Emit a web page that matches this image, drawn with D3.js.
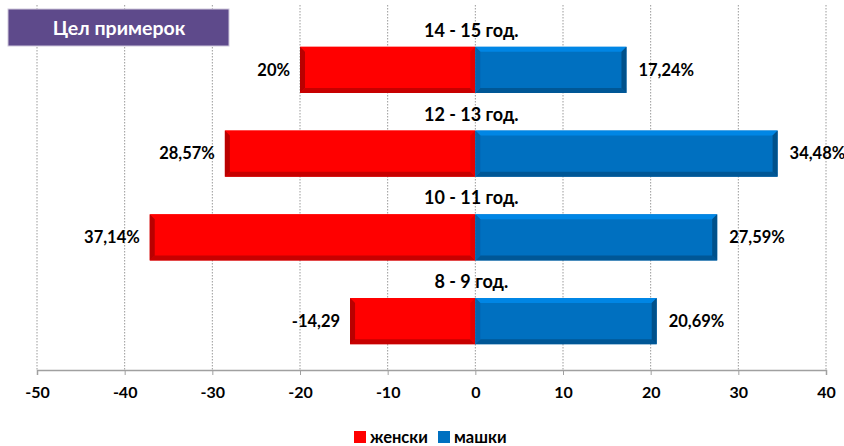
<!DOCTYPE html>
<html>
<head>
<meta charset="utf-8">
<script src="https://cdn.jsdelivr.net/npm/d3@7"></script>
<style>
  body { margin: 0; background: #fff; }
  text { font-family: Lato, "Open Sans", sans-serif; font-weight: bold; }
</style>
</head>
<body>
<div id="chart"></div>
<script>
const groups = ["14 - 15 год.", "12 - 13 год.", "10 - 11 год.", "8 - 9 год."];
const women = [-20, -28.57, -37.14, -14.29];
const men = [17.24, 34.48, 27.59, 20.69];
const womenLabels = ["20%", "28,57%", "37,14%", "-14,29"];
const menLabels = ["17,24%", "34,48%", "27,59%", "20,69%"];
const ticks = [-50, -40, -30, -20, -10, 0, 10, 20, 30, 40];
const series = ["женски", "машки"];
const colors = {женски: "#ff0000", машки: "#0070c0"};

const width = 844, height = 446;
const svg = d3.select("#chart").append("svg")
    .attr("width", width)
    .attr("height", height);

const x = d3.scaleLinear().domain([-50, 40]).range([37, 826]);
const y = d3.scaleBand().domain(groups).range([28, 363]).paddingInner(0.45).paddingOuter(0.225);
const axisY = 370;

// dotted gridlines
svg.append("g")
  .selectAll("line")
  .data(ticks)
  .join("line")
    .attr("x1", d => x(d)).attr("x2", d => x(d))
    .attr("y1", 5).attr("y2", axisY)
    .attr("stroke", "#9a9a9a")
    .attr("stroke-dasharray", "1.5,1.5");

// axis
const axis = svg.append("g")
  .attr("transform", `translate(0, ${axisY})`)
  .call(d3.axisBottom(x).tickValues(ticks).tickSize(5).tickPadding(12).tickFormat(d => String(d)));
axis.select(".domain").attr("stroke", "#a0a0a0").attr("stroke-width", 1.5);
axis.selectAll(".tick line").attr("stroke", "#a0a0a0");
axis.selectAll(".tick text")
  .attr("font-size", 16)
  .attr("fill", "#000")
  .style("font-family", "Lato, 'Open Sans', sans-serif")
  .style("font-weight", "bold");

// bevelled bar
function bar(g, x0, x1, y0, h, col) {
  const left = Math.min(x0, x1), right = Math.max(x0, x1);
  const outerRight = x1 > x0;
  const b = 5;
  g.append("rect")
    .attr("x", left).attr("y", y0)
    .attr("width", right - left).attr("height", h)
    .attr("fill", col);
  const c = d3.color(col);
  // top
  g.append("polygon")
    .attr("points", [[left, y0], [right, y0], [right - b, y0 + b], [left + b, y0 + b]].join(" "))
    .attr("fill", c.brighter(0.5));
  // bottom
  g.append("polygon")
    .attr("points", [[left, y0 + h], [right, y0 + h], [right - b, y0 + h - b], [left + b, y0 + h - b]].join(" "))
    .attr("fill", c.darker(0.7));
  // outer end
  const ex = outerRight ? right : left;
  const ix = outerRight ? right - b : left + b;
  g.append("polygon")
    .attr("points", [[ex, y0], [ex, y0 + h], [ix, y0 + h - b], [ix, y0 + b]].join(" "))
    .attr("fill", c.darker(0.9));
  // inner end
  const sx = outerRight ? left : right;
  const sx2 = outerRight ? left + b : right - b;
  g.append("polygon")
    .attr("points", [[sx, y0], [sx, y0 + h], [sx2, y0 + h - b], [sx2, y0 + b]].join(" "))
    .attr("fill", c.darker(0.3));
}

const bars = svg.append("g");
groups.forEach((grp, i) => {
  const y0 = y(grp), h = y.bandwidth();
  bar(bars, x(0), x(women[i]), y0, h, colors["женски"]);
  bar(bars, x(0), x(men[i]), y0, h, colors["машки"]);

  svg.append("text")
    .attr("x", x(women[i]) - 10).attr("y", y0 + h / 2)
    .attr("dy", "0.35em").attr("text-anchor", "end")
    .attr("font-size", 16.5)
    .text(womenLabels[i]);
  svg.append("text")
    .attr("x", x(men[i]) + 12).attr("y", y0 + h / 2)
    .attr("dy", "0.35em").attr("text-anchor", "start")
    .attr("font-size", 16.5)
    .text(menLabels[i]);
  svg.append("text")
    .attr("x", x(0) - 4).attr("y", y0 - 10)
    .attr("text-anchor", "middle")
    .attr("font-size", 18)
    .text(grp);
});

// title box
svg.append("rect")
  .attr("x", 8).attr("y", 9)
  .attr("width", 221).attr("height", 37)
  .attr("fill", "#5e4a8b")
  .attr("stroke", "#cfc8dc");
svg.append("text")
  .attr("x", 119).attr("y", 28)
  .attr("dy", "0.35em").attr("text-anchor", "middle")
  .attr("fill", "#fff").attr("font-size", 19.5)
  .text("Цел примерок");

// legend
const legend = svg.append("g").attr("transform", "translate(354, 437)");
const lx = [0, 84];
series.forEach((s, i) => {
  legend.append("rect")
    .attr("x", lx[i]).attr("y", -6)
    .attr("width", 12).attr("height", 12)
    .attr("fill", colors[s]);
  legend.append("text")
    .attr("x", lx[i] + 16).attr("y", 0)
    .attr("dy", "0.35em")
    .attr("font-size", 16.5)
    .text(s);
});
</script>
</body>
</html>
